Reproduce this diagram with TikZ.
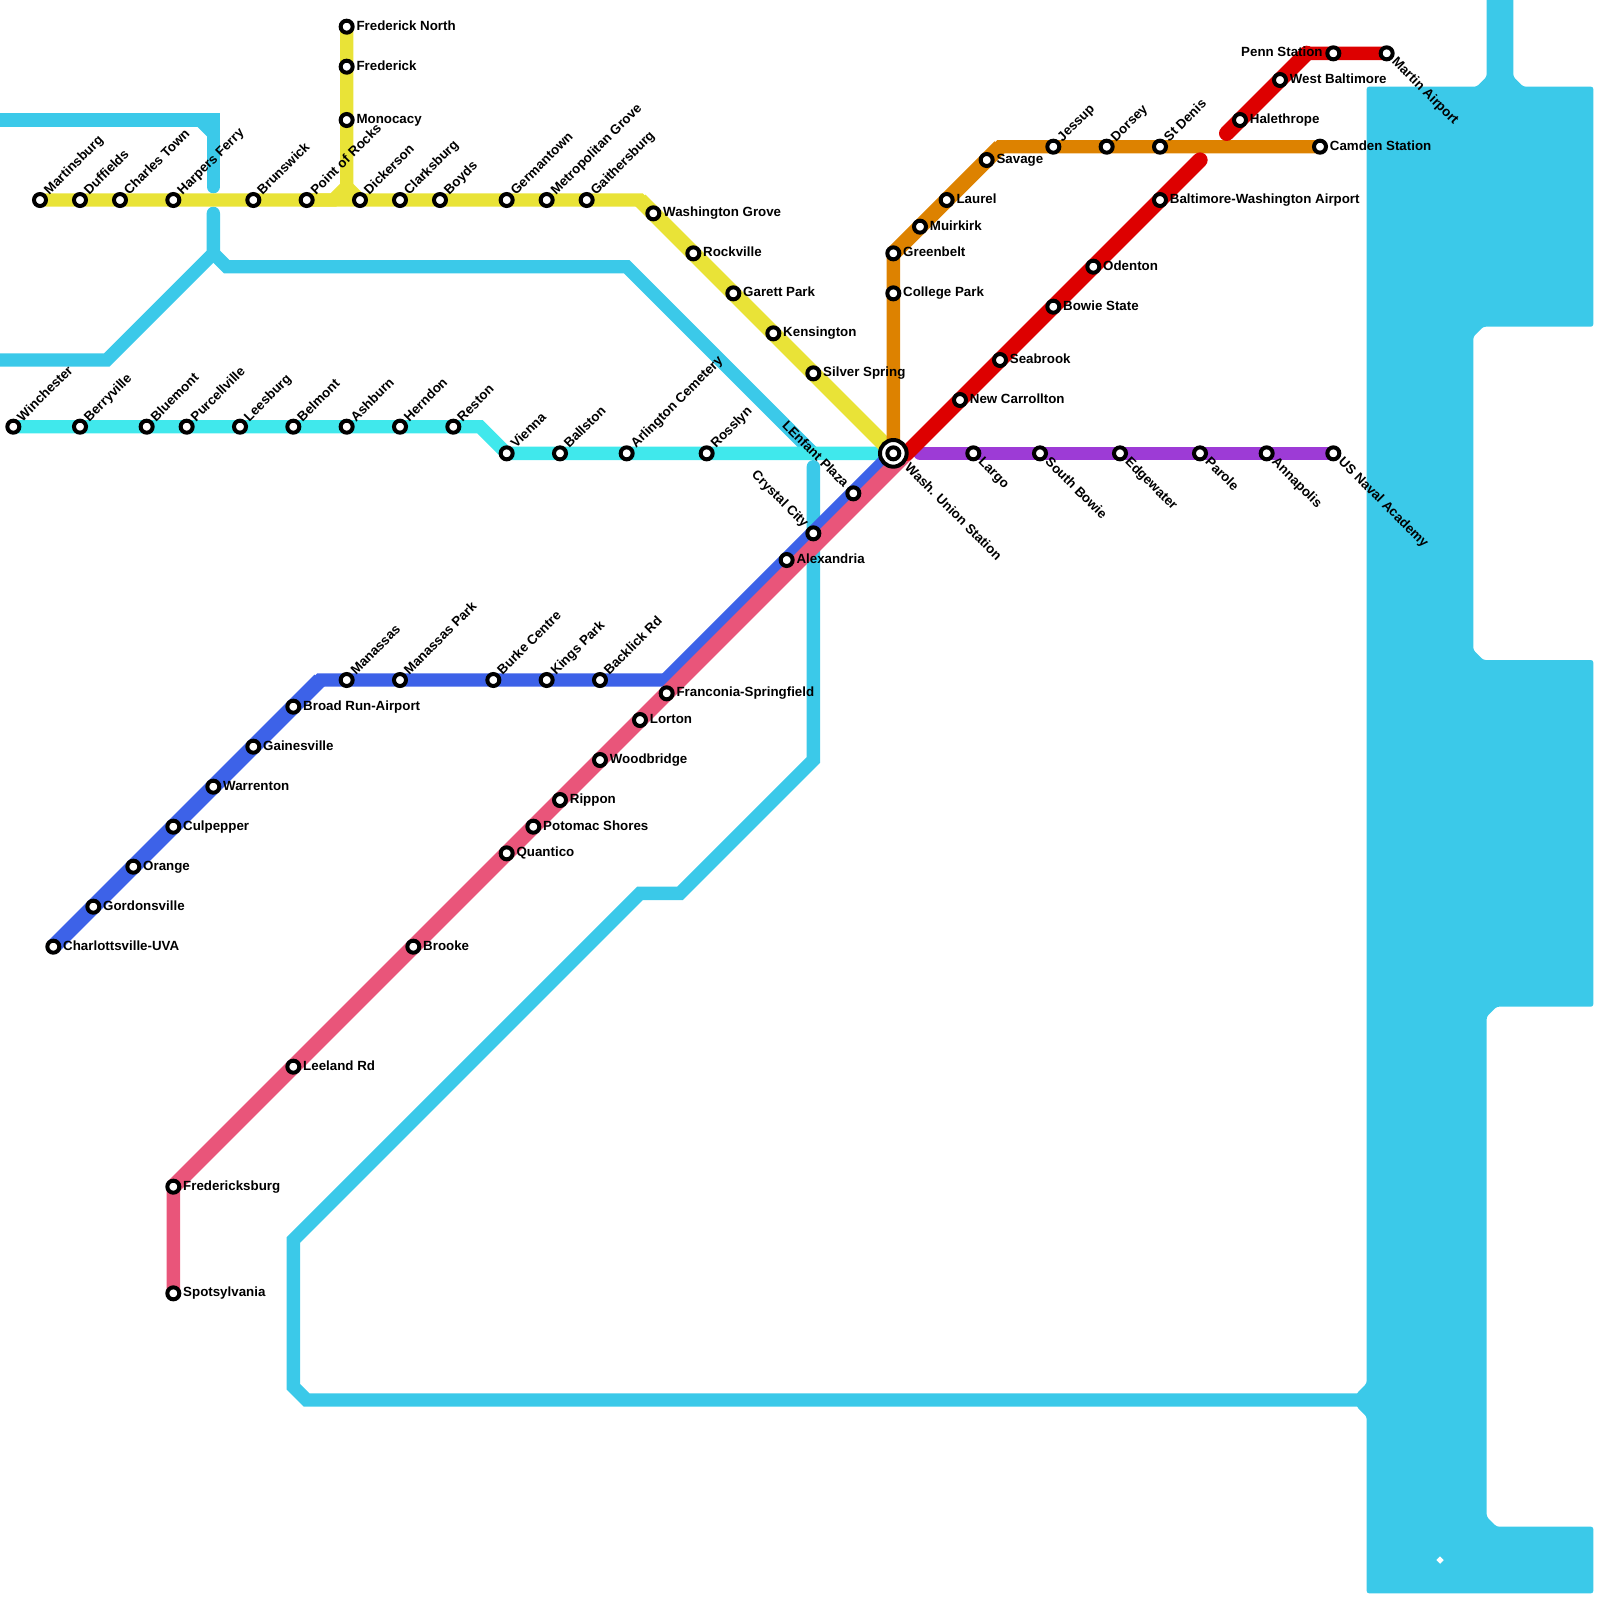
\documentclass[tikz,border=0pt]{standalone}
\usepackage{fontspec}
\setmainfont{Liberation Sans}
\usetikzlibrary{backgrounds}

\definecolor{linecyan}{HTML}{3BC9E9}
\definecolor{lineturq}{HTML}{40E8EC}
\definecolor{lineyellow}{HTML}{E9E337}
\definecolor{lineorange}{HTML}{DD8200}
\definecolor{linered}{HTML}{DD0000}
\definecolor{lineblue}{HTML}{3D62E8}
\definecolor{linepink}{HTML}{E9557A}
\definecolor{linepurple}{HTML}{9D3BD6}

\begin{document}
\begin{tikzpicture}[
  x=0.13333cm, y=-0.13333cm,
  font=\fontsize{3.79pt}{4.5pt}\selectfont\bfseries,
  track/.style={line width=0.13333cm, line cap=round},
  slant/.style={line width=0.153cm},
  stn/.style={circle, draw=black, fill=white, line width=0.04cm, minimum size=0.12cm, inner sep=0pt},
  hub/.style={stn, minimum size=0.2667cm},
  lblE/.style={anchor=base west, inner sep=0pt, xshift=0.092cm, yshift=-0.034cm},
  lblW/.style={anchor=base east, inner sep=0pt, xshift=-0.1cm, yshift=-0.034cm},
  lblNE/.style={rotate=45, lblE},
  lblSE/.style={rotate=-45, lblE},
  lblNW/.style={rotate=-45, lblW},
]
\useasboundingbox (0,0) rectangle (120,120);

% --- Bends and free line ends ---
\foreach \nm/\x/\y in {
  topw/-1/9, topc/16/9, topd/15/9, tope/16/10, topf/16/14,
  midn/16/16, midj/16/19, midw/-1/27, midb/8/27, midc/17/20, midd/47/20, mide/61/34,
  lowa/61/35, lowb/61/57, lowc/51/67, lowd/48/67, lowe/22/93, lowf/22/104, lowg/23/105, lowh/103/105,
  yelb/48/15, yelc/25/15, yeld/26/14, turb/36/32, orab/75/11,
  reda/68/34, redb/90/12, redc/92/10, redd/98/4, purs/69/34, blua/24/51, blub/50/51}
  \coordinate (\nm) at (\x,\y);

% --- Stations: labels up and to the right ---
\foreach \nm/\x/\y/\lbl in {
  mar/3/15/Martinsburg, duf/6/15/Duffields, cht/9/15/Charles Town, hrp/13/15/Harpers Ferry,
  bru/19/15/Brunswick, por/23/15/Point of Rocks, dic/27/15/Dickerson, cla/30/15/Clarksburg,
  boy/33/15/Boyds, ger/38/15/Germantown, met/41/15/Metropolitan Grove, gai/44/15/Gaithersburg,
  win/1/32/Winchester, ber/6/32/Berryville, blu/11/32/Bluemont, pur/14/32/Purcellville,
  lee/18/32/Leesburg, bel/22/32/Belmont, ash/26/32/Ashburn, her/30/32/Herndon, res/34/32/Reston,
  vie/38/34/Vienna, bal/42/34/Ballston, arl/47/34/Arlington Cemetery, ros/53/34/Rosslyn,
  jes/79/11/Jessup, dor/83/11/Dorsey, std/87/11/St Denis,
  mns/26/51/Manassas, mnp/30/51/Manassas Park, bur/37/51/Burke Centre, kin/41/51/Kings Park, bac/45/51/Backlick Rd}
{
  \node[stn] (\nm) at (\x,\y) {};
  \node[lblNE] (\nm-t) at (\nm) {\lbl};
}

% --- Stations: labels to the right ---
\foreach \nm/\x/\y/\lbl in {
  frn/26/2/Frederick North, fre/26/5/Frederick, mon/26/9/Monocacy,
  was/49/16/Washington Grove, roc/52/19/Rockville, gar/55/22/Garett Park, ken/58/25/Kensington, sil/61/28/Silver Spring,
  gre/67/19/Greenbelt, col/67/22/College Park, mui/69/17/Muirkirk, lau/71/15/Laurel, sav/74/12/Savage, cam/99/11/Camden Station,
  new/72/30/New Carrollton, sea/75/27/Seabrook, bow/79/23/Bowie State, ode/82/20/Odenton,
  bwi/87/15/Baltimore-Washington Airport, hal/93/9/Halethrope, wes/96/6/West Baltimore,
  brr/22/53/Broad Run-Airport, gns/19/56/Gainesville, wrr/16/59/Warrenton, cul/13/62/Culpepper,
  ora/10/65/Orange, gor/7/68/Gordonsville, chv/4/71/Charlottsville-UVA,
  fra/50/52/Franconia-Springfield, lor/48/54/Lorton, woo/45/57/Woodbridge, rip/42/60/Rippon,
  pot/40/62/Potomac Shores, qua/38/64/Quantico, bro/31/71/Brooke, lel/22/80/Leeland Rd,
  fbg/13/89/Fredericksburg, spo/13/97/Spotsylvania, ale/59/42/Alexandria}
{
  \node[stn] (\nm) at (\x,\y) {};
  \node[lblE] (\nm-t) at (\nm) {\lbl};
}

% --- Stations: labels down and to the right ---
\foreach \nm/\x/\y/\lbl in {
  mrt/104/4/Martin Airport, lar/73/34/Largo, sbo/78/34/South Bowie, edg/84/34/Edgewater,
  par/90/34/Parole, ann/95/34/Annapolis, usn/100/34/US Naval Academy}
{
  \node[stn] (\nm) at (\x,\y) {};
  \node[lblSE] (\nm-t) at (\nm) {\lbl};
}

% --- Stations: labels up and to the left ---
\foreach \nm/\x/\y/\lbl in {lef/64/37/LEnfant Plaza, cry/61/40/Crystal City}
{
  \node[stn] (\nm) at (\x,\y) {};
  \node[lblNW] (\nm-t) at (\nm) {\lbl};
}

\node[stn] (pen) at (100,4) {};
\node[lblW] (pen-t) at (pen) {Penn Station};

% The interchange is a ring round a plain station.
\node[hub] (uni) at (67,34) {};
\node[stn] (unc) at (uni) {};
\node[rotate=-45, anchor=base west, inner sep=0pt, xshift=0.18cm, yshift=-0.033cm] (uni-t) at (uni) {Wash. Union Station};

% --- Lines go under the stations ---
\begin{scope}[on background layer]
  % Filled mass on the right
  \fill[linecyan, rounded corners=0.7pt]
    (102.5,6.5) -- (110.75,6.5) -- (111.5,5.75) -- (111.5,-1) -- (113.5,-1) -- (113.5,5.75) -- (114.25,6.5)
    -- (119.5,6.5) -- (119.5,24.5) -- (111.25,24.5) -- (110.5,25.25) -- (110.5,48.75) -- (111.25,49.5)
    -- (119.5,49.5) -- (119.5,75.5) -- (112.25,75.5) -- (111.5,76.25) -- (111.5,113.75) -- (112.25,114.5)
    -- (119.5,114.5) -- (119.5,119.5) -- (102.5,119.5) -- (102.5,106.25) -- (101.75,105.5) -- (101.75,104.5)
    -- (102.5,103.75) -- cycle;
  \fill[white] (108,116.72) -- (108.28,117) -- (108,117.28) -- (107.72,117) -- cycle;

  \draw[track, linecyan] (topw) -- (topc) -- (topf);
  \draw[track, linecyan] (topd) -- (tope);
  \draw[track, linecyan] (midn) -- (midj) -- (midb) -- (midw);
  \draw[track, linecyan] (midj) -- (midc) -- (midd) -- (mide);
  \draw[track, linecyan] (lowa) -- (lowb) -- (lowc) -- (lowd) -- (lowe) -- (lowf) -- (lowg) -- (lowh);

  \draw[track, lineturq] (win.center) -- (turb) -- (vie.center) -- (uni.center);

  % Slanted runs of these lines are drawn a little wider.
  \draw[track, lineyellow] (mar.center) -- (yelb) -- (uni.center);
  \draw[slant, lineyellow] (yelb) -- (uni.center);
  \draw[track, lineyellow] (por.center) -- (yelc) -- (yeld) -- (frn.center);
  \draw[track, lineyellow] (dic.center) -- (yeld);

  \draw[track, lineorange] (uni.center) -- (gre.center) -- (orab) -- (cam.center);
  \draw[slant, lineorange] (gre.center) -- (orab);

  \draw[track, lineblue] (chv.center) -- (blua) -- (blub) -- (uni.center);
  \draw[slant, lineblue] (chv.center) -- (blua);
  \draw[slant, lineblue] (blub) -- (uni.center);

  \draw[track, linepink] (spo.center) -- (fbg.center) -- (reda);
  \draw[slant, linepink] (fbg.center) -- (reda);

  \draw[track, linepurple] (purs) -- (usn.center);

  \draw[track, linered, slant] (reda) -- (redb);
  \draw[track, linered] (redc) -- (redd) -- (mrt.center);
  \draw[track, linered, slant] (redd) -- (redc);
\end{scope}

\end{tikzpicture}
\end{document}
